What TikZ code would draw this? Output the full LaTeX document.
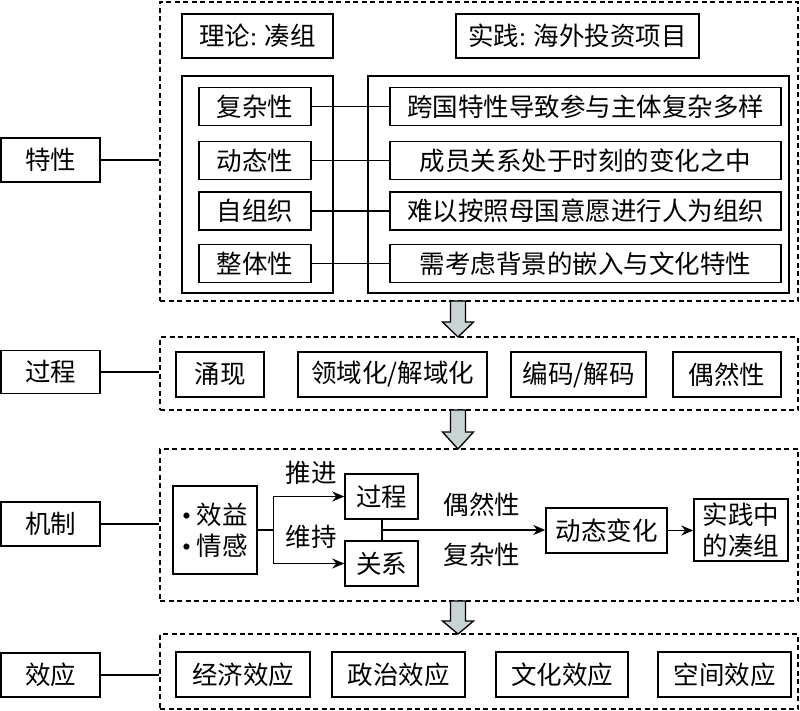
\documentclass[tikz,border=0pt]{standalone}
\usepackage{fontspec}
\setmainfont{Noto Sans CJK SC}
\newfontfamily\latinf{Liberation Serif}
\usetikzlibrary{arrows.meta}
\definecolor{arrowfill}{HTML}{C8D3D3}
\begin{document}
\begin{tikzpicture}[x=1pt,y=-1pt,
  box/.style={draw,line width=1.5pt,inner sep=0pt,font=\fontsize{25.5}{31}\selectfont},
  sect/.style={draw,line width=1.3pt,dash pattern=on 5pt off 3.5pt,inner sep=0pt},
  conn/.style={line width=1.5pt},
  arr/.style={line width=1.5pt,-{Stealth[length=12pt,width=10pt]}},
  lbl/.style={inner sep=0pt,font=\fontsize{25.5}{31}\selectfont},
  bigarrow/.style={draw,line width=1.3pt,fill=arrowfill,line join=miter}
]
\useasboundingbox (0,0) rectangle (800,711);

% sections
\node[sect,minimum width=638pt,minimum height=299pt] (sec1) at (479,151.5) {};
\node[sect,minimum width=638pt,minimum height=73pt] (sec2) at (479,373.5) {};
\node[sect,minimum width=638pt,minimum height=152pt] (sec3) at (479,525) {};
\node[sect,minimum width=638pt,minimum height=75pt] (sec4) at (479,671.5) {};

% left labels
\node[box,minimum width=99pt,minimum height=44pt] (lab1) at (50.5,160) {特性};
\node[box,minimum width=99pt,minimum height=43pt] (lab2) at (50.5,372) {过程};
\node[box,minimum width=99pt,minimum height=44pt] (lab3) at (50.5,524) {机制};
\node[box,minimum width=99pt,minimum height=44pt] (lab4) at (50.5,675) {效应};
\draw[conn] (lab1.east) -- (lab1.east -| sec1.west);
\draw[conn] (lab2.east) -- (lab2.east -| sec2.west);
\draw[conn] (lab3.east) -- (lab3.east -| sec3.west);
\draw[conn] (lab4.east) -- (lab4.east -| sec4.west);

% section 1
\node[box,minimum width=151pt,minimum height=44pt] (th) at (257.5,36) {理论{\latinf:} 凑组};
\node[box,minimum width=243pt,minimum height=44pt] (pr) at (577.5,36) {实践{\latinf:} 海外投资项目};
\node[box,minimum width=151pt,minimum height=217pt] (lin) at (257.5,184.5) {};
\node[box,minimum width=421pt,minimum height=217pt] (rin) at (578.5,184.5) {};
\node[box,minimum width=112pt,minimum height=38pt] (l1) at (255,106.5) {复杂性};
\node[box,minimum width=112pt,minimum height=38pt] (l2) at (255,160.5) {动态性};
\node[box,minimum width=112pt,minimum height=38pt] (l3) at (255,211) {自组织};
\node[box,minimum width=112pt,minimum height=38pt] (l4) at (255,263.5) {整体性};
\node[box,minimum width=391pt,minimum height=38pt] (r1) at (585.5,106.5) {跨国特性导致参与主体复杂多样};
\node[box,minimum width=391pt,minimum height=38pt] (r2) at (585.5,160.5) {成员关系处于时刻的变化之中};
\node[box,minimum width=391pt,minimum height=38pt] (r3) at (585.5,211) {难以按照母国意愿进行人为组织};
\node[box,minimum width=391pt,minimum height=38pt] (r4) at (585.5,263.5) {需考虑背景的嵌入与文化特性};
\foreach \i in {1,2,3,4} \draw[conn] (l\i.east) -- (r\i.west);

% section 2
\node[box,minimum width=88pt,minimum height=45pt] (p1) at (220,374.5) {涌现};
\node[box,minimum width=189pt,minimum height=45pt] (p2) at (392.5,374.5) {领域化/解域化};
\node[box,minimum width=135pt,minimum height=45pt] (p3) at (578.5,374.5) {编码/解码};
\node[box,minimum width=108pt,minimum height=45pt] (p4) at (727,374.5) {偶然性};

% section 3
\node[box,minimum width=84pt,minimum height=88pt,align=left] (eb) at (215,530) {{\latinf •} 效益\\{\latinf •} 情感};
\node[box,minimum width=73pt,minimum height=45pt] (gc) at (381.5,496.5) {过程};
\node[box,minimum width=73pt,minimum height=45pt] (gx) at (381.5,563.5) {关系};
\node[box,minimum width=121pt,minimum height=45pt] (dt) at (606.5,530.5) {动态变化};
\node[box,minimum width=94pt,minimum height=62pt,align=center] (sj) at (741,530) {实践中\\的凑组};
\coordinate (j) at (273.5,530);
\coordinate (m) at (382,530);
\draw[conn] (eb.east) -- (j);
\draw[arr] (j) |- (gc.west);
\draw[arr] (j) |- (gx.west);
\draw[conn] (gc.south -| m) -- (gx.north -| m);
\draw[arr] (m) -- (dt.west |- m);
\draw[arr] (dt.east) -- (sj.west |- dt.east);
\node[lbl] (t1) at (311,473) {推进};
\node[lbl] (t2) at (311,537) {维持};
\node[lbl] (t3) at (482,505) {偶然性};
\node[lbl] (t4) at (482,555) {复杂性};

% section 4
\node[box,minimum width=134pt,minimum height=45pt] (e1) at (243,674.5) {经济效应};
\node[box,minimum width=133pt,minimum height=45pt] (e2) at (398.5,674.5) {政治效应};
\node[box,minimum width=132pt,minimum height=45pt] (e3) at (562,674.5) {文化效应};
\node[box,minimum width=133pt,minimum height=45pt] (e4) at (724.5,674.5) {空间效应};

% big arrows between sections
\draw[bigarrow] (450.5,301)--(465.5,301)--(465.5,322)--(473.5,322)--(458,337)--(442.5,322)--(450.5,322)--cycle;
\draw[bigarrow] (450.5,410)--(465.5,410)--(465.5,432)--(473.5,432)--(458,449)--(442.5,432)--(450.5,432)--cycle;
\draw[bigarrow] (450.5,601)--(465.5,601)--(465.5,621)--(473.5,621)--(458,634)--(442.5,621)--(450.5,621)--cycle;
\end{tikzpicture}
\end{document}
